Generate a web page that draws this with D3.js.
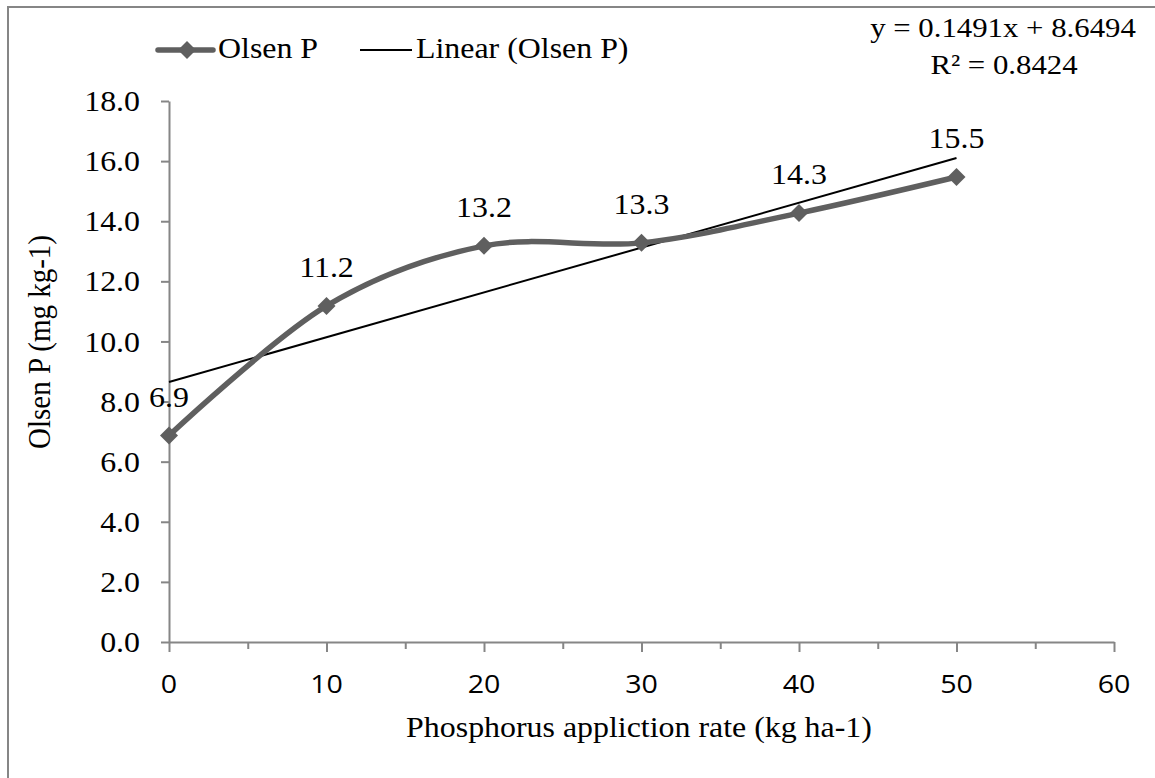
<!DOCTYPE html>
<html>
<head>
<meta charset="utf-8">
<script src="https://cdn.jsdelivr.net/npm/d3@7"></script>
<style>
  html, body { margin: 0; padding: 0; background: #fff; }
  svg { display: block; }
</style>
</head>
<body>
<svg width="1155" height="778"></svg>
<script>
// data
const rates = [0, 10, 20, 30, 40, 50];
const olsenP = [6.87, 11.18, 13.18, 13.28, 14.27, 15.47];
const yTicks = [0, 2, 4, 6, 8, 10, 12, 14, 16, 18];
const xTicks = [0, 10, 20, 30, 40, 50, 60];
const xMinor = [5, 15, 25, 35, 45, 55];
const trend = { slope: 0.1491, intercept: 8.6494 };
const eqLines = ["y = 0.1491x + 8.6494", "R² = 0.8424"];

const width = 1155, height = 778;
const margin = { top: 101, right: 41, bottom: 136, left: 169 };

const serif = "'Liberation Serif', 'Times New Roman', serif";
const sans = "'Open Sans', 'Liberation Sans', sans-serif";
const stretch = 1.1;  // text in the picture is a bit wide
const axisColor = "#868686";
const lineColor = "#5f5f5f";

const svg = d3.select("svg");

const x = d3.scaleLinear().domain([0, 60]).range([margin.left, width - margin.right]);
const y = d3.scaleLinear().domain([0, 18]).range([height - margin.bottom, margin.top]);

// helper: text at (px,py) with horizontal stretch
function label(txt, px, py, opts) {
  opts = opts || {};
  return svg.append("text")
    .attr("transform", `translate(${px},${py}) scale(${stretch},1)`)
    .attr("text-anchor", opts.anchor || "middle")
    .attr("dy", opts.dy || 0)
    .style("font-family", opts.font || serif)
    .style("font-size", (opts.size || 29) + "px")
    .attr("fill", "#000")
    .text(txt);
}

// outer frame
svg.append("rect")
  .attr("x", 8).attr("y", 7)
  .attr("width", width + 20).attr("height", height + 20)
  .attr("fill", "none")
  .attr("stroke", axisColor)
  .attr("stroke-width", 2);

// Y axis
svg.append("g")
  .attr("transform", `translate(${margin.left},0)`)
  .call(d3.axisLeft(y).tickValues(yTicks).tickSize(8).tickSizeOuter(0).tickFormat(""));

// X axis, major + minor ticks
svg.append("g")
  .attr("transform", `translate(0,${height - margin.bottom})`)
  .call(d3.axisBottom(x).tickValues(xTicks).tickSize(10).tickSizeOuter(0).tickFormat(""));
svg.append("g")
  .attr("transform", `translate(0,${height - margin.bottom})`)
  .call(d3.axisBottom(x).tickValues(xMinor).tickSize(7).tickSizeOuter(0).tickFormat(""))
  .select(".domain").remove();

svg.selectAll(".domain, .tick line")
  .attr("stroke", axisColor)
  .attr("stroke-width", 2);

// tick labels
yTicks.forEach(v => label(d3.format(".1f")(v), 140, y(v), { anchor: "end", dy: "0.35em" }));
xTicks.forEach(v => label(v, x(v), 693, { font: sans, size: 26 }));

// axis titles
label("Phosphorus appliction rate (kg ha-1)", 639, 737);
svg.append("text")
  .attr("transform", `translate(50,342) rotate(-90) scale(1,${stretch})`)
  .attr("text-anchor", "middle")
  .style("font-family", serif)
  .style("font-size", "29px")
  .text("Olsen P (mg kg-1)");

// linear trendline
const trendX = [0, 50];
svg.append("line")
  .attr("x1", x(trendX[0])).attr("y1", y(trend.slope * trendX[0] + trend.intercept))
  .attr("x2", x(trendX[1])).attr("y2", y(trend.slope * trendX[1] + trend.intercept))
  .attr("stroke", "#000")
  .attr("stroke-width", 2);

// smoothed data line
const pts = rates.map((r, i) => [r, olsenP[i]]);
const line = d3.line()
  .x(d => x(d[0]))
  .y(d => y(d[1]))
  .curve(d3.curveCardinal.tension(0));

svg.append("path")
  .datum(pts)
  .attr("d", line)
  .attr("fill", "none")
  .attr("stroke", lineColor)
  .attr("stroke-width", 5.5)
  .attr("stroke-linejoin", "round");

const diamond = "M0,-9L9,0L0,9L-9,0Z";
svg.selectAll(".marker")
  .data(pts)
  .enter()
  .append("path")
  .attr("class", "marker")
  .attr("transform", d => `translate(${x(d[0])},${y(d[1])})`)
  .attr("d", diamond)
  .attr("fill", lineColor);

// data labels
pts.forEach(d => label(d3.format(".1f")(d[1]), x(d[0]), y(d[1]) - 29));

// equation
label(eqLines[0], 1003, 37, { size: 28 });
label(eqLines[1], 1004, 74, { size: 28 });

// legend
svg.append("line")
  .attr("x1", 158).attr("x2", 213).attr("y1", 50).attr("y2", 50)
  .attr("stroke", lineColor).attr("stroke-width", 5.5).attr("stroke-linecap", "round");
svg.append("path")
  .attr("transform", "translate(187,50)")
  .attr("d", diamond)
  .attr("fill", lineColor);
label("Olsen P", 218, 58, { anchor: "start" });

svg.append("line")
  .attr("x1", 360).attr("x2", 412).attr("y1", 50).attr("y2", 50)
  .attr("stroke", "#000").attr("stroke-width", 2);
label("Linear (Olsen P)", 416, 58, { anchor: "start" });
</script>
</body>
</html>
